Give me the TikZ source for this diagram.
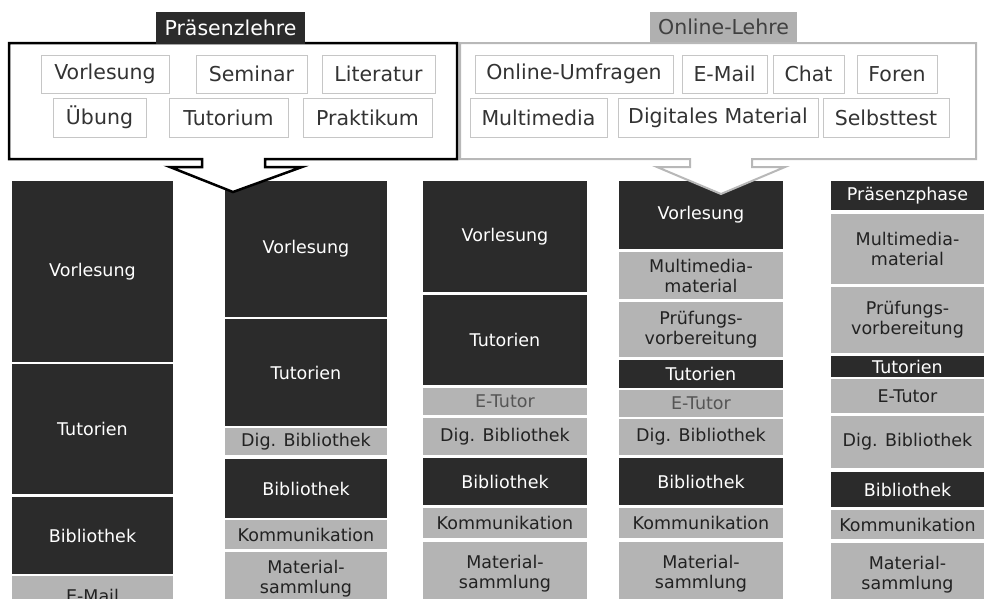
\documentclass[tikz,border=0pt]{standalone}
\usepackage{fontspec}
\setmainfont{DejaVu Sans}
\definecolor{darkc}{HTML}{2B2B2B}
\definecolor{greyc}{HTML}{B4B4B4}
\definecolor{segtext}{HTML}{222222}
\definecolor{faintt}{HTML}{555555}
\definecolor{itemc}{HTML}{C6C6C6}
\definecolor{itemtext}{HTML}{333333}
\definecolor{onlinec}{HTML}{B8B8B8}
\definecolor{tabgrey}{HTML}{B0B0B0}
\definecolor{tabtext}{HTML}{404040}
\newcommand\colfont{\fontsize{17.5}{20}\selectfont}
\newcommand\topfont{\fontsize{20.5}{24}\selectfont}
% name, style, x1, y1, x2, y2, text
\newcommand\segbox[7]{\node[#2, minimum width={(#5-#3)*1pt}, minimum height={(#6-#4)*1pt}] (#1) at ({(#3+#5)/2},{(#4+#6)/2}) {#7};}
\tikzset{
  every node/.style={inner sep=0pt, outer sep=0pt},
  darkseg/.style={fill=darkc, text=white, font=\colfont, align=center},
  greyseg/.style={fill=greyc, text=segtext, font=\colfont, align=center},
  faintseg/.style={greyseg, text=faintt},
  item/.style={draw=itemc, line width=1pt, fill=white, text=itemtext, font=\topfont},
  presbox/.style={draw=black, line width=2.5pt, fill=white, line join=miter},
  onlbox/.style={draw=onlinec, line width=2pt, fill=white, line join=miter},
}
\begin{document}
\begin{tikzpicture}[x=1pt,y=-1pt]
\clip (0,0) rectangle (987,598);
\fill[white] (0,0) rectangle (987,598);
% column 1
\segbox{a1}{darkseg}{12}{181}{173}{362}{Vorlesung}
\segbox{a2}{darkseg}{12}{364}{173}{494}{Tutorien}
\segbox{a3}{darkseg}{12}{497}{173}{574}{Bibliothek}
\segbox{a4}{greyseg}{12}{576}{173}{616}{E-Mail}
% column 2
\segbox{b1}{darkseg}{225}{181}{387}{317}{Vorlesung}
\segbox{b2}{darkseg}{225}{319}{387}{426}{Tutorien}
\segbox{b3}{greyseg}{225}{428}{387}{455}{Dig. Bibliothek}
\segbox{b4}{darkseg}{225}{459}{387}{518}{Bibliothek}
\segbox{b5}{greyseg}{225}{520}{387}{549}{Kommunikation}
\segbox{b6}{greyseg}{225}{552}{387}{606}{Material-\\sammlung}
% column 3
\segbox{c1}{darkseg}{423}{181}{587}{292}{Vorlesung}
\segbox{c2}{darkseg}{423}{295}{587}{385}{Tutorien}
\segbox{c3}{faintseg}{423}{388}{587}{415}{E-Tutor}
\segbox{c4}{greyseg}{423}{418}{587}{455}{Dig. Bibliothek}
\segbox{c5}{darkseg}{423}{458}{587}{505}{Bibliothek}
\segbox{c6}{greyseg}{423}{508}{587}{538}{Kommunikation}
\segbox{c7}{greyseg}{423}{542}{587}{606}{Material-\\sammlung}
% column 4
\segbox{d1}{darkseg}{619}{181}{783}{249}{Vorlesung}
\segbox{d2}{greyseg}{619}{252}{783}{299}{Multimedia-\\material}
\segbox{d3}{greyseg}{619}{302}{783}{357}{Prüfungs-\\vorbereitung}
\segbox{d4}{darkseg}{619}{360}{783}{388}{Tutorien}
\segbox{d5}{faintseg}{619}{390}{783}{417}{E-Tutor}
\segbox{d6}{greyseg}{619}{419}{783}{455}{Dig. Bibliothek}
\segbox{d7}{darkseg}{619}{458}{783}{505}{Bibliothek}
\segbox{d8}{greyseg}{619}{508}{783}{538}{Kommunikation}
\segbox{d9}{greyseg}{619}{542}{783}{606}{Material-\\sammlung}
% column 5
\segbox{e1}{darkseg}{831}{181}{984}{210}{Präsenzphase}
\segbox{e2}{greyseg}{831}{214}{984}{284}{Multimedia-\\material}
\segbox{e3}{greyseg}{831}{287}{984}{353}{Prüfungs-\\vorbereitung}
\segbox{e4}{darkseg}{831}{356}{984}{377}{Tutorien}
\segbox{e5}{greyseg}{831}{379}{984}{413}{E-Tutor}
\segbox{e6}{greyseg}{831}{416}{984}{468}{Dig. Bibliothek}
\segbox{e7}{darkseg}{831}{472}{984}{507}{Bibliothek}
\segbox{e8}{greyseg}{831}{510}{984}{539}{Kommunikation}
\segbox{e9}{greyseg}{831}{543}{984}{606}{Material-\\sammlung}
% Online-Lehre box with arrow
\draw[onlbox] (460,43) -- (976,43) -- (976,159) -- (752,159) -- (752,167) -- (785,167)
  -- (721,194) -- (657,167) -- (690,167) -- (690,159) -- (460,159) -- cycle;
\segbox{onltab}{fill=tabgrey, text=tabtext, font=\topfont}{650}{12}{797}{42}{Online-Lehre}
% Präsenzlehre box with arrow
\draw[presbox] (9,43) -- (457,43) -- (457,159) -- (265,159) -- (265,167) -- (302,167)
  -- (233,192) -- (170,167) -- (202,167) -- (202,159) -- (9,159) -- cycle;
\segbox{prestab}{fill=darkc, text=white, font=\topfont}{156}{12}{305}{44}{Präsenzlehre}
% items Präsenzlehre
\segbox{p1}{item}{41}{55}{169}{93}{Vorlesung}
\segbox{p2}{item}{196}{55}{307}{93}{Seminar}
\segbox{p3}{item}{322}{55}{435}{93}{Literatur}
\segbox{p4}{item}{53}{98}{146}{137}{Übung}
\segbox{p5}{item}{169}{98}{288}{137}{Tutorium}
\segbox{p6}{item}{303}{98}{432}{137}{Praktikum}
% items Online-Lehre
\segbox{o1}{item}{475}{55}{673}{93}{Online-Umfragen}
\segbox{o2}{item}{682}{55}{767}{93}{E-Mail}
\segbox{o3}{item}{773}{55}{844}{93}{Chat}
\segbox{o4}{item}{857}{55}{937}{93}{Foren}
\segbox{o5}{item}{470}{98}{607}{137}{Multimedia}
\segbox{o6}{item}{618}{98}{818}{137}{Digitales Material}
\segbox{o7}{item}{823}{98}{949}{137}{Selbsttest}
\end{tikzpicture}
\end{document}
